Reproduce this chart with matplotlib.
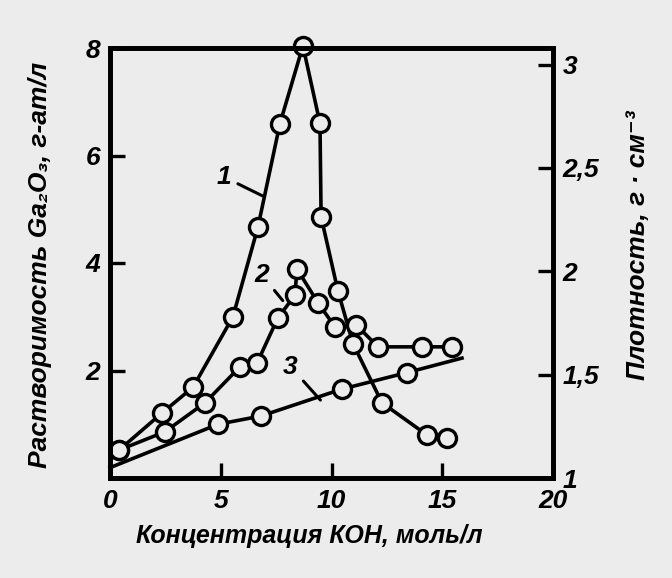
import matplotlib.pyplot as plt
import numpy as np

# curve 1 and 2: solubility of Ga2O3 (left axis), curve 3: density (right axis)
koh1 = [0.41, 2.35, 3.75, 5.55, 6.68, 7.67, 8.71, 9.48, 9.53, 10.29, 10.97, 12.28, 14.31, 15.21]
sol1 = [0.52, 1.21, 1.69, 3.00, 4.67, 6.59, 8.04, 6.60, 4.86, 3.48, 2.50, 1.40, 0.80, 0.74]

koh2 = [0.41, 2.48, 4.29, 5.87, 6.64, 7.58, 8.35, 8.44, 9.39, 10.16, 11.11, 12.10, 14.09, 15.44]
sol2 = [0.52, 0.86, 1.40, 2.07, 2.14, 2.98, 3.40, 3.89, 3.26, 2.81, 2.85, 2.44, 2.44, 2.44]

koh3 = [0.0, 4.88, 6.82, 10.47, 13.41, 15.89]
dens3 = [1.05, 1.26, 1.30, 1.43, 1.51, 1.58]
marked3 = [False, True, True, True, True, False]

xticks = [0, 5, 10, 15, 20]
yticks_left = [2, 4, 6, 8]
yticks_right = [1, 1.5, 2, 2.5, 3]
yticklabels_right = ['1', '1,5', '2', '2,5', '3']

# curve number labels: (text, label pos, point on curve)
curve_tags = [('1', (5.15, 5.6), (6.88, 5.25)),
              ('2', (6.85, 3.78), (7.8, 3.3)),
              ('3', (8.15, 2.07), (9.5, 1.45))]

bg = '#ececec'
fam = ['Liberation Sans', 'DejaVu Sans']
plt.rcParams['font.family'] = fam
plt.rcParams['font.weight'] = 'bold'
plt.rcParams['font.style'] = 'italic'

fig = plt.figure(figsize=(6.72, 5.78), dpi=100, facecolor=bg)
ax = fig.add_axes([110/672, 100/578, 443/672, 430/578], facecolor=bg)
ax2 = ax.twinx()

lw = 2.6
mk = dict(marker='o', markersize=13, markerfacecolor=bg, markeredgecolor='k', markeredgewidth=2.4)
ax.plot(koh1, sol1, color='k', lw=lw, clip_on=False, **mk)
ax.plot(koh2, sol2, color='k', lw=lw, clip_on=False, **mk)

ax2.plot(koh3, dens3, color='k', lw=lw, clip_on=False)
ax2.plot(np.array(koh3)[marked3], np.array(dens3)[marked3], linestyle='none', clip_on=False, **mk)

ax.set_xlim(0, 20)
ax.set_ylim(0, 8)
ax2.set_ylim(1, 3.08)

ax.set_xticks(xticks)
ax.set_xticklabels([str(v) for v in xticks])
ax.set_yticks(yticks_left)
ax.set_yticklabels([str(v) for v in yticks_left])
ax2.set_yticks(yticks_right)
ax2.set_yticklabels(yticklabels_right)

for a in (ax, ax2):
    for s in a.spines.values():
        s.set_linewidth(3.4)
    a.tick_params(direction='in', length=11, width=2.4, labelsize=19, pad=7)
ax.tick_params(axis='y', right=False)
ax2.tick_params(axis='y', left=False)
ax.tick_params(axis='x', pad=8)

for txt, pos, pt in curve_tags:
    ax.annotate(txt, xy=pt, xytext=pos, fontsize=19, ha='center', va='center',
                arrowprops=dict(arrowstyle='-', color='k', lw=2.2, shrinkA=3, shrinkB=0))

fig.text(309/672, 1 - 536/578, 'Концентрация КОН, моль/л', ha='center', va='center', fontsize=18)
fig.text(40/672, 1 - 265/578, 'Растворимость Ga₂O₃, г-ат/л', ha='center', va='center',
         rotation=90, fontsize=19)
fig.text(638/672, 1 - 245/578, 'Плотность, г · см⁻³', ha='center', va='center',
         rotation=90, fontsize=19)

fig.savefig('out.png', dpi=100, facecolor=bg)
